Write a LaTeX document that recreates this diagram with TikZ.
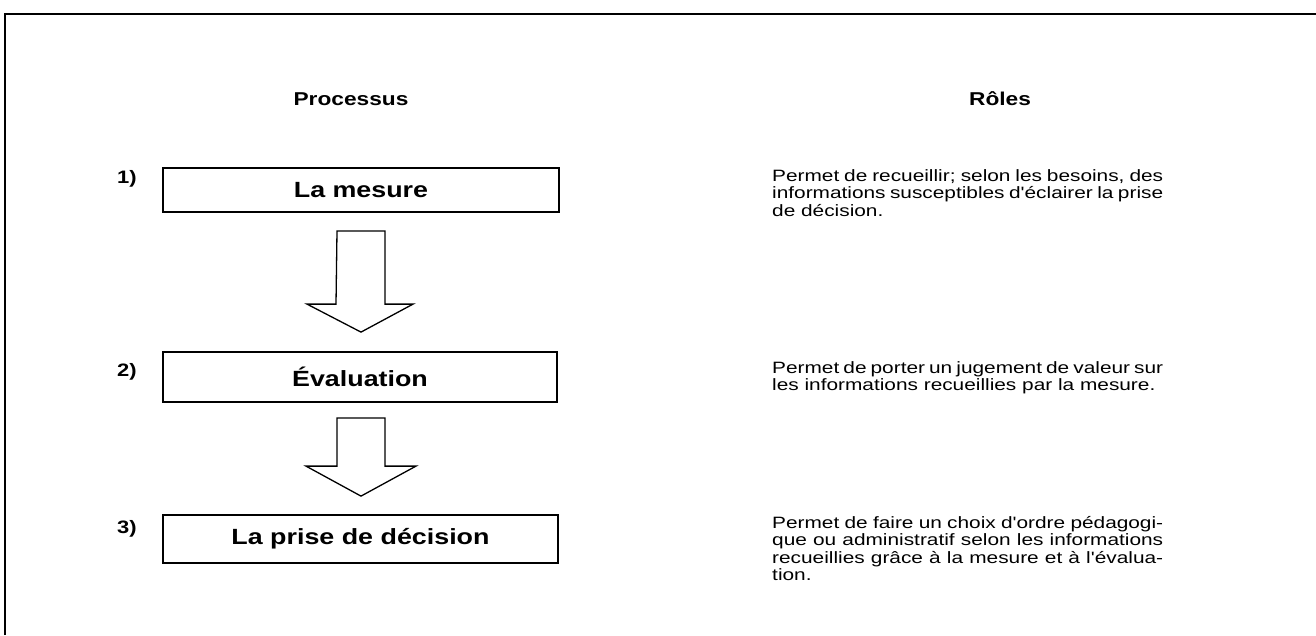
\documentclass[tikz,border=0pt]{standalone}
\usepackage{fontspec}
\setmainfont{Liberation Sans}[FakeStretch=1.22]
\newfontfamily\bodyfont{Liberation Sans}[FakeStretch=1.27]
\usetikzlibrary{calc}
\newcommand\rolepar[1]{\parbox[t]{391pt}{\bodyfont\fontsize{16.4}{17.5}\selectfont #1}}
\tikzset{
  procbox/.style={draw, line width=1.8pt, rectangle, inner sep=0pt, minimum width=395pt,
    font=\bfseries\fontsize{22}{24}\selectfont},
  heading/.style={anchor=base, inner sep=0pt, font=\bfseries\fontsize{18.6}{20}\selectfont},
  numlabel/.style={anchor=base west, inner sep=0pt, font=\bfseries\fontsize{18}{20}\selectfont},
  roletext/.style={anchor=base west, inner sep=0pt, font=\bodyfont\fontsize{16.4}{17.5}\selectfont},
  blockarrow/.style={draw, line width=1.3pt, fill=white, line join=miter},
  frameline/.style={draw, line width=2pt}
}
\begin{document}
\begin{tikzpicture}[x=1pt,y=-1pt]
\useasboundingbox (0,0) rectangle (1316,635);
\path[frameline] (5,635) -- (5,14) -- (1316,14);

\node[heading] (hp) at (351,105) {Processus};
\node[heading] (hr) at (1000,105) {Rôles};

\node[numlabel] (n1) at (117,183) {1)};
\node[numlabel] (n2) at (117,376) {2)};
\node[numlabel] (n3) at (117,533) {3)};

\node[procbox, minimum width=396pt, minimum height=44pt] (b1) at (361,190) {La mesure};
\node[procbox, minimum width=394pt, minimum height=50pt] (b2) at (360,377) {Évaluation};
\node[procbox, minimum width=395pt, minimum height=48pt] (b3) at (360.5,539) {La prise de décision};

\path[blockarrow] ($(b1.south)+(-24,18)$) -- ($(b1.south)+(24,18)$) -- ($(b2.north)+(25,-47)$)
  -- ($(b2.north)+(53,-47)$) -- ($(b2.north)+(1,-19)$) -- ($(b2.north)+(-53,-47)$)
  -- ($(b2.north)+(-24,-47)$) -- cycle;
\path[blockarrow] ($(b2.south)+(-23,15)$) -- ($(b2.south)+(25,15)$) -- ($(b3.north)+(24.5,-48)$)
  -- ($(b3.north)+(55.5,-48)$) -- ($(b3.north)+(0.5,-18)$) -- ($(b3.north)+(-54.5,-48)$)
  -- ($(b3.north)+(-23.5,-48)$) -- cycle;

\node[roletext] (r1) at (772,181) {\rolepar{Permet de recueillir; selon les besoins, des\linebreak informations susceptibles d'éclairer la prise\linebreak de décision.}};
\node[roletext] (r2) at (772,373) {\rolepar{Permet de porter un jugement de valeur sur\linebreak les informations recueillies par la mesure.}};
\node[roletext] (r3) at (772,528) {\rolepar{Permet de faire un choix d'ordre pédagogi-\linebreak que ou administratif selon les informations\linebreak recueillies grâce à la mesure et à l'évalua-\linebreak tion.}};
\end{tikzpicture}
\end{document}
